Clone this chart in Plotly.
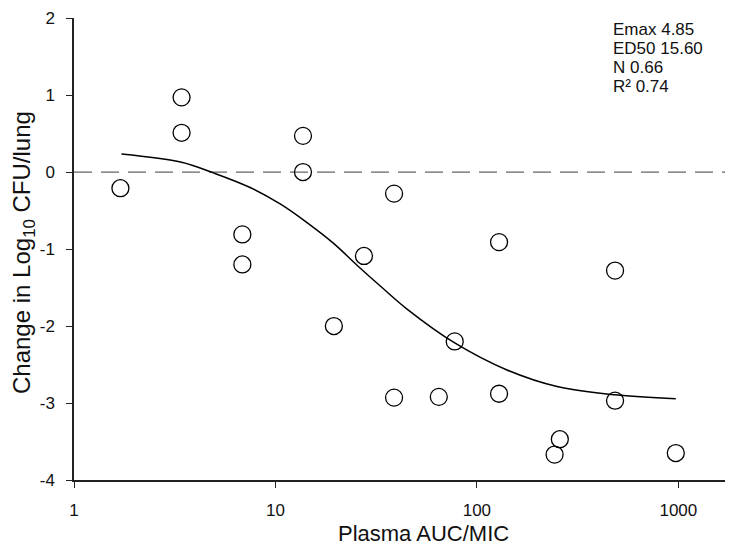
import plotly.graph_objects as go
import math

# Observed data (Plasma AUC/MIC vs change in log10 CFU/lung)
auc_mic = [1.7, 3.42, 3.42, 6.85, 6.85, 13.7, 13.7, 19.5, 27.5, 38.8, 38.8,
           64.7, 77.6, 128.8, 128.8, 243, 258, 485, 485, 971]
delta_cfu = [-0.21, 0.97, 0.51, -0.81, -1.20, 0.47, 0.00, -2.00, -1.09, -0.28, -2.93,
             -2.92, -2.20, -0.91, -2.88, -3.67, -3.47, -1.28, -2.97, -3.65]

# Fitted sigmoid Emax curve
fit_x = [1.72, 3.42, 4.96, 7.53, 10.6, 14.4, 19.5, 25.4, 33.8, 45.0, 77.6, 141, 250, 485, 971]
fit_y = [0.235, 0.128, -0.014, -0.204, -0.418, -0.66, -0.93, -1.21, -1.50, -1.78,
         -2.22, -2.571, -2.786, -2.893, -2.945]

x_ticks = [1, 10, 100, 1000]
x_tick_labels = ["1", "10", "100", "1000"]
y_ticks = [-4, -3, -2, -1, 0, 1, 2]
y_tick_labels = ["-4", "-3", "-2", "-1", "0", "1", "2"]

stats_lines = ["Emax 4.85", "ED50 15.60", "N 0.66", "R\u00b2 0.74"]

FONT = "Liberation Sans, Arial, sans-serif"
AX = "#222222"
TXT = "#111111"

L, R, T, B = 66, 731, 10, 472
W, H = 733, 546
pw, ph = R - L, B - T

fig = go.Figure()

fig.add_trace(go.Scatter(
    x=fit_x, y=fit_y, mode="lines",
    line=dict(color="black", width=1.5, shape="spline", smoothing=1.0),
    hoverinfo="skip", showlegend=False))

fig.add_trace(go.Scatter(
    x=auc_mic, y=delta_cfu, mode="markers",
    marker=dict(symbol="circle-open", size=17, color="black", line=dict(width=1.3)),
    showlegend=False))

# zero reference line
fig.add_shape(type="line", xref="paper", yref="y", x0=0, x1=1, y0=0, y1=0,
              line=dict(color="#666666", width=1.2, dash="18px,9px"), layer="below")
# right frame line
fig.add_shape(type="line", xref="paper", yref="paper", x0=1, x1=1, y0=0, y1=1,
              line=dict(color=AX, width=1.5))

def px_x(p):
    return (p - L) / pw

def px_y(p):
    return 1 - (p - T) / ph

line_px = [21, 40, 59, 78]
for txt, py in zip(stats_lines, line_px):
    fig.add_annotation(text=txt, xref="paper", yref="paper",
                       x=px_x(603), y=px_y(py), height=18,
                       xanchor="left", yanchor="middle", showarrow=False,
                       font=dict(family=FONT, size=17, color=TXT))

# axis titles
fig.add_annotation(text="Plasma AUC/MIC", xref="paper", yref="paper",
                   x=px_x(415), y=px_y(525), height=24, borderpad=0,
                   xanchor="center", yanchor="middle",
                   showarrow=False, font=dict(family=FONT, size=22, color=TXT))
fig.add_annotation(text="Change in Log<sub>10</sub> CFU/lung", xref="paper", yref="paper",
                   x=px_x(15), y=px_y(245), xanchor="center", yanchor="middle",
                   textangle=-90, showarrow=False,
                   font=dict(family=FONT, size=24, color=TXT))

fig.update_layout(
    width=W, height=H,
    margin=dict(l=L, r=W - R, t=T, b=H - B, autoexpand=False),
    paper_bgcolor="white", plot_bgcolor="white",
    font=dict(family=FONT, color=TXT),
    xaxis=dict(type="log", range=[0, math.log10(2000)],
               tickvals=x_ticks, ticktext=x_tick_labels,
               showgrid=False, zeroline=False, automargin=False,
               showline=True, linecolor=AX, linewidth=1.5,
               ticks="outside", ticklen=6, tickwidth=1.2, tickcolor=AX,
               ticklabelstandoff=8, ticklabeloverflow="allow",
               tickfont=dict(size=17, family=FONT, color=TXT)),
    yaxis=dict(range=[-4, 2.001], tickvals=y_ticks, ticktext=y_tick_labels,
               showgrid=False, zeroline=False, automargin=False,
               showline=True, linecolor=AX, linewidth=1.5,
               ticks="outside", ticklen=6, tickwidth=1.2, tickcolor=AX,
               ticklabelstandoff=8, ticklabeloverflow="allow",
               tickfont=dict(size=17, family=FONT, color=TXT)),
)

fig.write_html("out.html")
